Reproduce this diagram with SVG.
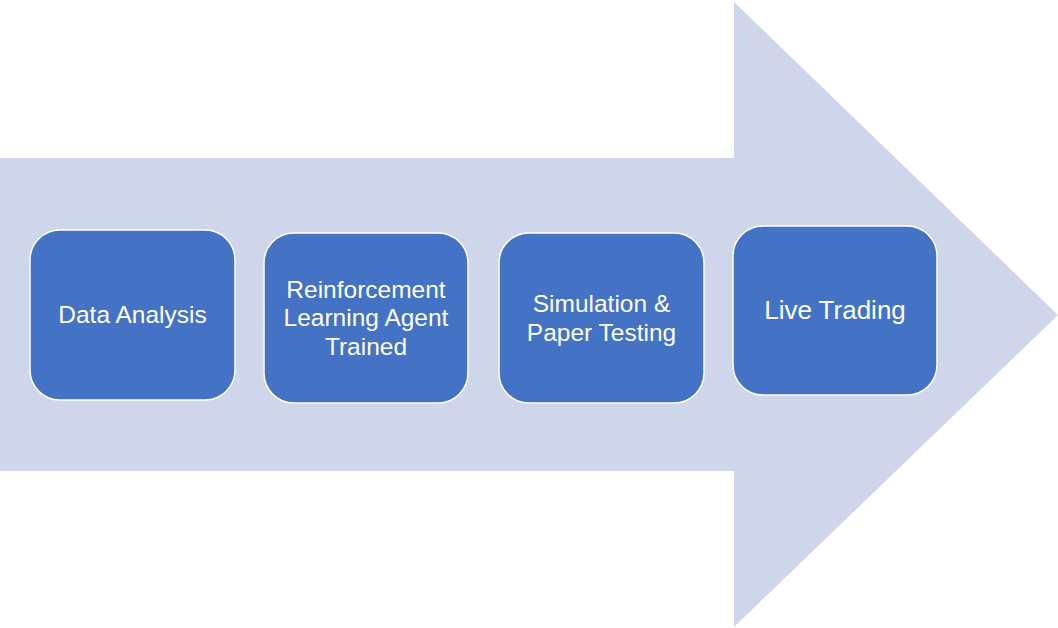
<svg xmlns="http://www.w3.org/2000/svg" width="1058" height="628" viewBox="0 0 1058 628">
<style>
.box{fill:#4472C4;stroke:#FFFFFF;stroke-width:1.5}
.lbl{font-family:"Liberation Sans",Arial,sans-serif;font-size:24.5px;fill:#FFFFFF;text-anchor:middle}
</style>
<rect width="1058" height="628" fill="#FFFFFF"/>
<g id="arrow">
<polygon points="0,158 734,158 734,2 1058,315 734,627 734,471 0,471" fill="#CFD5EA"/>
</g>
<g id="connectors"></g>
<g id="node-data-analysis">
<rect class="box" x="30" y="230" width="205" height="170" rx="30" ry="30"/>
<text class="lbl" x="132.5" y="322.5">Data Analysis</text>
</g>
<g id="node-rl-agent">
<rect class="box" x="264" y="233" width="204" height="170" rx="30" ry="30"/>
<text class="lbl" x="366" y="297.5">Reinforcement</text>
<text class="lbl" x="366" y="326">Learning Agent</text>
<text class="lbl" x="366" y="354.5">Trained</text>
</g>
<g id="node-simulation">
<rect class="box" x="499" y="233" width="205" height="170" rx="30" ry="30"/>
<text class="lbl" x="601.5" y="312">Simulation &amp;</text>
<text class="lbl" x="601.5" y="341">Paper Testing</text>
</g>
<g id="node-live-trading">
<rect class="box" x="733" y="226" width="204" height="169" rx="30" ry="30"/>
<text class="lbl" x="835" y="318.5" style="font-size:26px">Live Trading</text>
</g>
</svg>
